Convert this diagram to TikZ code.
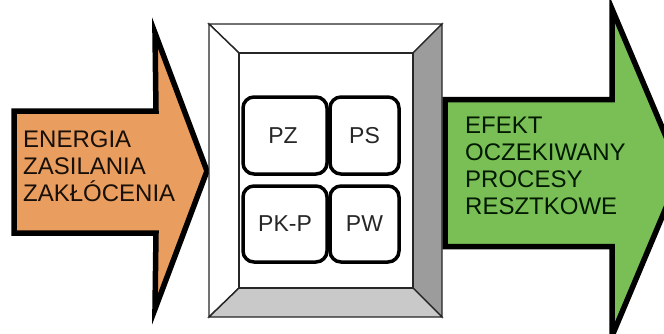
\documentclass[tikz,border=0pt]{standalone}
\usepackage{fontspec}
\setmainfont{Liberation Sans}
\begin{document}
\begin{tikzpicture}[x=1pt,y=-1pt,
  thickline/.style={line width=5.5pt,line join=miter,miter limit=20},
  bevel/.style={draw=black!85,line width=1.4pt,line join=miter},
  proc/.style={draw=black,line width=3.5pt,rounded corners=11pt,fill=white},
  proclabel/.style={font=\fontsize{23}{26}\selectfont,text=black!85},
  arrowtext/.style={align=left,anchor=north west,inner sep=0pt,
    font=\fontsize{24}{27}\selectfont}]
\definecolor{inorange}{HTML}{E99D5F}
\definecolor{outgreen}{HTML}{79BF55}
\definecolor{bevelright}{HTML}{9C9C9C}
\definecolor{bevelbottom}{HTML}{C9C9C9}
\useasboundingbox (0,0) rectangle (664,333);

% input arrow
\coordinate (inTip) at (207,171);
\filldraw[thickline,fill=inorange]
  (14,111) -- (156,111) -- (155,33) -- (inTip) -- (155,309) -- (156,233) -- (14,233) -- cycle;
\node[arrowtext,text=black!88!brown] (inText) at (23,131)
  {ENERGIA\\ZASILANIA\\ZAKŁÓCENIA};

% output arrow (runs past the right edge)
\begin{scope}
\clip (0,0) rectangle (664,333);
\coordinate (outTip) at (681,172);
\filldraw[thickline,fill=outgreen]
  (445,99.5) -- (612,99.5) -- (612,9) -- (outTip) -- (612,336) -- (612,246.5) -- (445,246.5) -- cycle;
\end{scope}
\node[arrowtext,text=black!90!green] (outText) at (465,117)
  {EFEKT\\OCZEKIWANY\\PROCESY\\RESZTKOWE};

% bevelled process frame
\coordinate (oNW) at (209,24);  \coordinate (oNE) at (442,24);
\coordinate (oSE) at (442,317); \coordinate (oSW) at (209,317);
\coordinate (iNW) at (239,53);  \coordinate (iNE) at (413,53);
\coordinate (iSE) at (413,288); \coordinate (iSW) at (239,288);
\filldraw[bevel,fill=white] (oNW) -- (oNE) -- (iNE) -- (iNW) -- cycle;
\filldraw[bevel,fill=white] (oNW) -- (iNW) -- (iSW) -- (oSW) -- cycle;
\filldraw[bevel,fill=bevelright] (oNE) -- (oSE) -- (iSE) -- (iNE) -- cycle;
\filldraw[bevel,fill=bevelbottom] (oSW) -- (iSW) -- (iSE) -- (oSE) -- cycle;
\filldraw[bevel,fill=white] (iNW) rectangle (iSE);

% sub-processes
\draw[proc] (243,97) rectangle (327,174);
\draw[proc] (330,97) rectangle (399,174);
\draw[proc] (243,186) rectangle (327,262);
\draw[proc] (330,186) rectangle (399,262);
\node[proclabel] (pz) at (283,136) {PZ};
\node[proclabel] (ps) at (364.5,136) {PS};
\node[proclabel] (pkp) at (285,224) {PK-P};
\node[proclabel] (pw) at (364.5,224) {PW};
\end{tikzpicture}
\end{document}
